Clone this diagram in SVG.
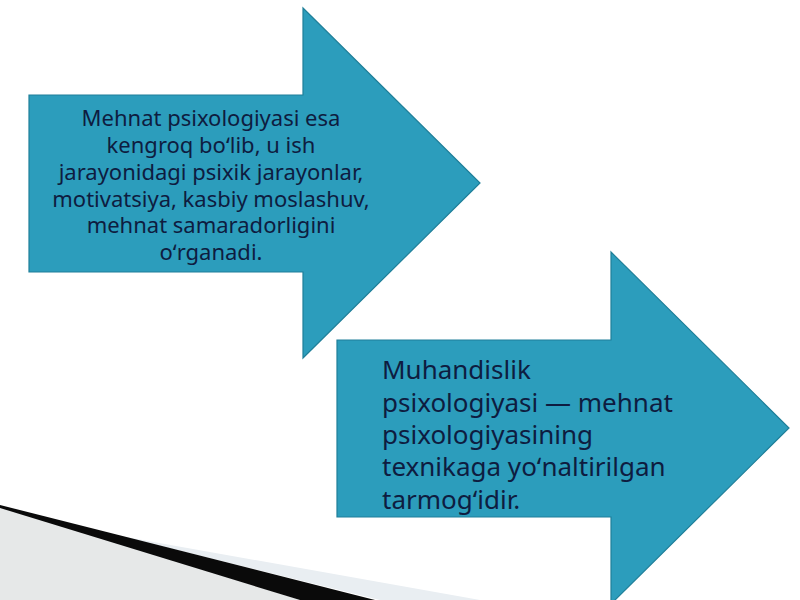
<svg xmlns="http://www.w3.org/2000/svg" width="800" height="600" viewBox="0 0 800 600">
<style>
.arrow{fill:#2C9DBC;stroke:#1F7F99;stroke-width:1.2}
.t{font-family:"Noto Sans","Open Sans","DejaVu Sans",sans-serif;fill:#0E1C40}
.t1{font-size:22px;text-anchor:middle}
.t2{font-size:26px}
</style>
<rect width="800" height="600" fill="#FFFFFF"/>
<g id="decor">
<polygon points="0,506 300,600 0,600" fill="#E6E8E8"/>
<polygon points="120,536 380,600 480,600" fill="#E9EEF2"/>
<polygon points="0,505 375,600 300,600 0,508" fill="#0A0A0A"/>
</g>
<g id="node1">
<polygon class="arrow" points="29,95 303,95 303,8 480,183 303,358 303,272 29,272"/>
<text class="t t1"><tspan x="211" y="126">Mehnat psixologiyasi esa</tspan><tspan x="211" y="153">kengroq boʻlib, u ish</tspan><tspan x="211" y="180">jarayonidagi psixik jarayonlar,</tspan><tspan x="211" y="206.5">motivatsiya, kasbiy moslashuv,</tspan><tspan x="211" y="233">mehnat samaradorligini</tspan><tspan x="211" y="260">oʻrganadi.</tspan></text>
</g>
<g id="node2">
<polygon class="arrow" points="337,340 611,340 611,252 789,428 611,604 611,517 337,517"/>
<text class="t t2"><tspan x="382" y="379">Muhandislik</tspan><tspan x="382" y="412">psixologiyasi — mehnat</tspan><tspan x="382" y="444">psixologiyasining</tspan><tspan x="382" y="476">texnikaga yoʻnaltirilgan</tspan><tspan x="382" y="509">tarmogʻidir.</tspan></text>
</g>
<g id="connectors"/>
</svg>
